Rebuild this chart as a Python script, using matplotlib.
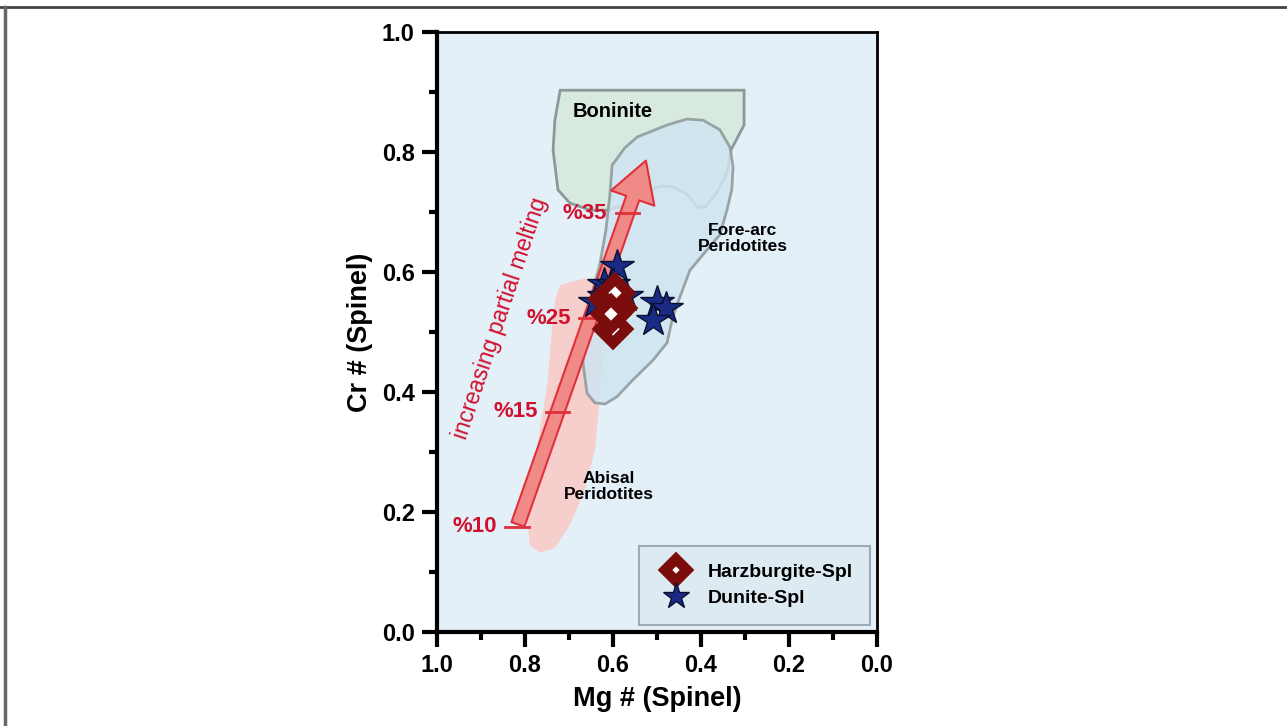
import numpy as np
import matplotlib
matplotlib.use("Agg")
import matplotlib.pyplot as plt
from matplotlib.patches import Polygon, FancyArrowPatch
from matplotlib.lines import Line2D

plt.rcParams['font.family'] = ['Liberation Sans', 'DejaVu Sans']

# field outlines (Mg#, Cr#)
boninite_x = [0.720, 0.302, 0.302, 0.332, 0.341, 0.364, 0.391, 0.409, 0.432, 0.464,
              0.493, 0.527, 0.573, 0.614, 0.652, 0.698, 0.725, 0.736, 0.732]
boninite_y = [0.903, 0.903, 0.845, 0.803, 0.765, 0.732, 0.708, 0.708, 0.730, 0.742,
              0.743, 0.732, 0.712, 0.703, 0.703, 0.715, 0.737, 0.803, 0.853]

forearc_x = [0.602, 0.573, 0.545, 0.477, 0.432, 0.395, 0.357, 0.334, 0.327, 0.330,
             0.341, 0.357, 0.386, 0.425, 0.448, 0.464, 0.477, 0.509, 0.555, 0.591,
             0.618, 0.641, 0.659, 0.668, 0.666, 0.652, 0.630, 0.616, 0.607]
forearc_y = [0.778, 0.807, 0.825, 0.845, 0.855, 0.853, 0.837, 0.808, 0.775, 0.737,
             0.703, 0.662, 0.637, 0.603, 0.558, 0.525, 0.482, 0.453, 0.420, 0.392,
             0.380, 0.382, 0.398, 0.448, 0.503, 0.553, 0.612, 0.670, 0.728]

abyssal_x = [0.720, 0.664, 0.630, 0.618, 0.630, 0.641, 0.664, 0.698, 0.732, 0.766,
             0.789, 0.795, 0.784, 0.766, 0.748, 0.739, 0.732]
abyssal_y = [0.578, 0.590, 0.578, 0.520, 0.387, 0.303, 0.237, 0.178, 0.140, 0.132,
             0.145, 0.187, 0.253, 0.337, 0.420, 0.503, 0.553]

# melting trend
arrow_start = (0.818, 0.175)
arrow_end = (0.523, 0.790)
pct_labels = ['%10', '%15', '%25', '%35']
pct_x = [0.818, 0.726, 0.651, 0.567]
pct_y = [0.175, 0.367, 0.523, 0.698]

# samples
harz_x = [0.600, 0.590, 0.610, 0.595, 0.600, 0.605]
harz_y = [0.550, 0.540, 0.555, 0.565, 0.505, 0.530]
dun_x = [0.59, 0.62, 0.64, 0.60, 0.57, 0.50, 0.48, 0.51, 0.62]
dun_y = [0.61, 0.58, 0.55, 0.58, 0.56, 0.55, 0.54, 0.52, 0.56]

fig = plt.figure(figsize=(12.87, 7.26), dpi=100)
ax = fig.add_axes([0.3395, 0.1295, 0.3419, 0.8264])
ax.set_facecolor('#e4f0f7')

ax.add_patch(Polygon(np.column_stack([abyssal_x, abyssal_y]), closed=True,
                     facecolor='#f6cfcd', edgecolor='none', zorder=1))
ax.add_patch(Polygon(np.column_stack([boninite_x, boninite_y]), closed=True,
                     facecolor='#d8eadf', edgecolor='#8c9899', lw=2, zorder=2))
ax.add_patch(Polygon(np.column_stack([forearc_x, forearc_y]), closed=True,
                     facecolor='#cfe5f1', edgecolor='#8c9899', lw=2, alpha=0.85, zorder=2))

arr = FancyArrowPatch(arrow_start, arrow_end,
                      arrowstyle='simple,head_length=1.3,head_width=1.5,tail_width=0.45',
                      mutation_scale=22, facecolor='#f08a86', edgecolor='#e0303c',
                      lw=1.5, zorder=3)
ax.add_patch(arr)

red = '#d0102e'
for lab, px, py in zip(pct_labels, pct_x, pct_y):
    ax.plot([px + 0.027, px - 0.027], [py, py], color='#e0303c', lw=2, zorder=3)
    ax.annotate(lab, (px, py), xytext=(-20, 0), textcoords='offset pixels',
                ha='right', va='center', color=red, fontsize=16, fontweight='bold')

ax.text(0.855, 0.523, 'increasing partial melting', rotation=71.5, color=red,
        fontsize=16.5, ha='center', va='center', zorder=4)

ax.text(0.600, 0.867, 'Boninite', fontsize=14.5, fontweight='bold', ha='center', va='center')
ax.text(0.305, 0.656, 'Fore-arc\nPeridotites', fontsize=12.5, fontweight='bold',
        ha='center', va='center', linespacing=1.1)
ax.text(0.610, 0.242, 'Abisal\nPeridotites', fontsize=12.5, fontweight='bold',
        ha='center', va='center', linespacing=1.1)

ax.plot(dun_x, dun_y, '*', color='#1a2b85', markeredgecolor='#0a0f30',
        markersize=25, markeredgewidth=1, linestyle='none', label='Dunite-Spl', zorder=5)
ax.plot(harz_x, harz_y, 'D', markerfacecolor='white', markeredgecolor='#7c0d0d',
        markersize=14, markeredgewidth=7.5, linestyle='none', label='Harzburgite-Spl', zorder=6)

handles, labels = ax.get_legend_handles_labels()
leg = ax.legend(handles[::-1], labels[::-1], loc='lower right', bbox_to_anchor=(0.984, 0.012),
                fontsize=14, frameon=True, fancybox=False, borderpad=0.9, borderaxespad=0,
                handletextpad=0.6, labelspacing=0.45, markerscale=0.8)
leg.get_frame().set_facecolor('#dde9f1')
leg.get_frame().set_edgecolor('#8a9aa4')
leg.get_frame().set_linewidth(1.5)
for t in leg.get_texts():
    t.set_fontweight('bold')

ax.set_xlim(1.0, 0.0)
ax.set_ylim(0.0, 1.0)
ticks = [1.0, 0.8, 0.6, 0.4, 0.2, 0.0]
ax.set_xticks(ticks)
ax.set_xticklabels(['%.1f' % t for t in ticks])
ax.set_yticks(ticks)
ax.set_yticklabels(['%.1f' % t for t in ticks])
ax.set_xticks([0.9, 0.7, 0.5, 0.3, 0.1], minor=True)
ax.set_yticks([0.9, 0.7, 0.5, 0.3, 0.1], minor=True)
ax.tick_params(which='major', direction='out', length=11, width=3, labelsize=17, pad=5)
ax.tick_params(which='minor', direction='out', length=6, width=3)
for t in ax.get_xticklabels() + ax.get_yticklabels():
    t.set_fontweight('bold')
for s in ['left', 'bottom']:
    ax.spines[s].set_linewidth(3)
for s in ['top', 'right']:
    ax.spines[s].set_linewidth(2)

ax.set_xlabel('Mg # (Spinel)', fontsize=19.5, fontweight='bold', labelpad=6)
ax.set_ylabel('Cr # (Spinel)', fontsize=19.5, fontweight='bold', labelpad=6)

# page frame
fig.add_artist(Line2D([0, 1], [1 - 7 / 726, 1 - 7 / 726], transform=fig.transFigure,
                      color='#444444', lw=2))
fig.add_artist(Line2D([5 / 1287, 5 / 1287], [0, 1 - 7 / 726], transform=fig.transFigure,
                      color='#666666', lw=2.5))

fig.savefig('out.png', dpi=100)
